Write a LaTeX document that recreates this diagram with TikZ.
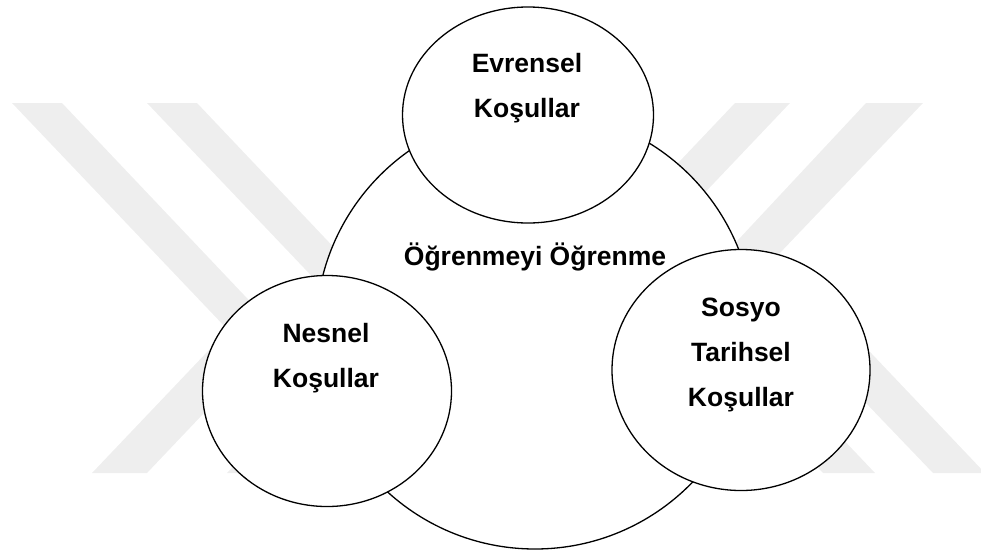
\documentclass[tikz,border=0pt]{standalone}
\usepackage{fontspec}
\setmainfont{Liberation Sans}
\usetikzlibrary{shapes.geometric}
\definecolor{filigran}{HTML}{EEEEEE}

\begin{document}
\begin{tikzpicture}[
    x=1pt, y=-1pt,
    halka/.style = {ellipse, draw, fill=white, line width=1.3pt, inner sep=0pt},
    yazi/.style = {align=center, inner sep=0pt, font=\fontsize{26.5}{45}\selectfont\bfseries},
    iz/.style = {fill=filigran, draw=none}
    ]
  \useasboundingbox (0,0) rectangle (981,552);

  % filigran
  \fill[iz] (12,103) -- (62,103) -- (280,333) -- (147,473) -- (92,473) -- (228,330) -- cycle;
  \fill[iz] (147,103) -- (197,103) -- (415,333) -- (282,473) -- (227,473) -- (363,330) -- cycle;
  \fill[iz] (735,103) -- (790,103) -- (657,243) -- (875,473) -- (823,473) -- (603,242) -- cycle;
  \fill[iz] (866,103) -- (923,103) -- (778,255) -- (985,473) -- (933,473) -- (724,255) -- cycle;

  \node[halka, minimum width=438pt, minimum height=438pt] (ogrenme) at (535,330) {};
  \node[halka, minimum width=251pt, minimum height=216pt] (evrensel) at (528,115) {};
  \node[halka, minimum width=249pt, minimum height=231pt] (nesnel) at (327,391) {};
  \node[halka, minimum width=258pt, minimum height=241pt] (sosyo) at (741,370) {};

  \node[yazi, anchor=base] (ogrenmeyazi) at (535,265) {Öğrenmeyi Öğrenme};
  \node[yazi, anchor=north] (evrenselyazi) at (527,53) {Evrensel\\Koşullar};
  \node[yazi, anchor=north] (nesnelyazi) at (326,323) {Nesnel\\Koşullar};
  \node[yazi, anchor=north] (sosyoyazi) at (741,298) {Sosyo\\Tarihsel\\Koşullar};
\end{tikzpicture}
\end{document}
